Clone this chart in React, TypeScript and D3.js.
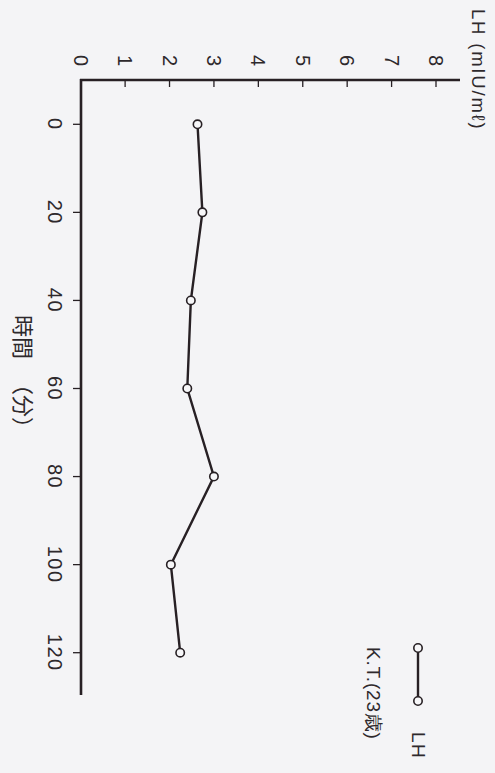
import React from "react";
import * as d3 from "d3";

// LH concentration over time for one subject
const times = [0, 20, 40, 60, 80, 100, 120];
const lhValues = [2.63, 2.74, 2.48, 2.4, 3.0, 2.03, 2.24];
const lhTicks = [0, 1, 2, 3, 4, 5, 6, 7, 8];
const timeTicks = [0, 20, 40, 60, 80, 100, 120];
const seriesName = "LH";
const subjectLabel = "K.T.(23歳)";
const valueTitle = "LH (mIU/mℓ)";
const timeTitleMain = "時間";
const timeTitleUnit = "（分）";

const W = 495;
const H = 773;
const ink = "#272024";
const textInk = "#2e292c";
const font = "'Liberation Sans', Arial, sans-serif";
const cjkFont = "'Noto Sans CJK JP', 'Liberation Sans', sans-serif";

export default function App() {
  // the plot is drawn turned a quarter-turn clockwise: LH runs left→right, time runs top→bottom
  const x = d3.scaleLinear().domain([0, 8]).range([80.7, 436]);
  const y = d3.scaleLinear().domain([0, 120]).range([124.3, 652.7]);

  const axisX0 = 81;
  const axisY0 = 80;

  const line = d3
    .line<number>()
    .x((_, i) => x(lhValues[i]))
    .y((_, i) => y(times[i]));

  const rot = (tx: number, ty: number) => `translate(${tx},${ty}) rotate(90)`;

  return (
    <svg
      width={W}
      height={H}
      style={{ position: "absolute", left: 0, top: 0 }}
      fontFamily={font}
    >
      <rect width={W} height={H} fill="#f4f4f6" />

      {/* LH axis along the top */}
      <line x1={axisX0 - 1} x2={460} y1={axisY0} y2={axisY0} stroke={ink} strokeWidth={2.6} />
      {lhTicks.map((t) => (
        <g key={`lh${t}`}>
          {t > 0 && (
            <line x1={x(t)} x2={x(t)} y1={axisY0} y2={axisY0 + 7} stroke={ink} strokeWidth={1.3} />
          )}
          <text
            transform={rot(x(t), 61)}
            textAnchor="middle"
            dominantBaseline="central"
            fontSize={20}
            letterSpacing={1}
            fill={textInk}
          >
            {t}
          </text>
        </g>
      ))}
      <text
        transform={rot(478, 9)}
        dominantBaseline="central"
        fontSize={18.5}
        letterSpacing={1.8}
        fill={textInk}
      >
        {valueTitle}
      </text>

      {/* time axis down the left */}
      <line x1={axisX0} x2={axisX0} y1={axisY0 - 1} y2={695} stroke={ink} strokeWidth={2.6} />
      {timeTicks.map((t) => (
        <g key={`t${t}`}>
          <line x1={axisX0 - 8} x2={axisX0} y1={y(t)} y2={y(t)} stroke={ink} strokeWidth={1.3} />
          <text
            transform={rot(55, y(t))}
            textAnchor="middle"
            dominantBaseline="central"
            fontSize={20}
            letterSpacing={1.5}
            fill={textInk}
          >
            {t}
          </text>
        </g>
      ))}
      <text
        transform={rot(25, 315)}
        dominantBaseline="central"
        fontSize={22}
        fontFamily={cjkFont}
        fill={textInk}
      >
        {timeTitleMain}
        <tspan dx={14}>{timeTitleUnit}</tspan>
      </text>

      {/* series */}
      <path d={line(lhValues) ?? ""} fill="none" stroke={ink} strokeWidth={2.4} />
      {lhValues.map((v, i) => (
        <circle
          key={`p${i}`}
          cx={x(v)}
          cy={y(times[i])}
          r={4.2}
          fill="#f7f7f9"
          stroke={ink}
          strokeWidth={1.6}
        />
      ))}

      {/* legend */}
      <line x1={418} x2={418} y1={648} y2={701} stroke={ink} strokeWidth={2.4} />
      <circle cx={418} cy={648} r={4.2} fill="#f7f7f9" stroke={ink} strokeWidth={1.6} />
      <circle cx={418} cy={701} r={4.2} fill="#f7f7f9" stroke={ink} strokeWidth={1.6} />
      <text
        transform={rot(418, 732)}
        dominantBaseline="central"
        fontSize={19}
        letterSpacing={1.5}
        fill={textInk}
      >
        {seriesName}
      </text>
      <text
        transform={rot(373, 647)}
        dominantBaseline="central"
        fontSize={19}
        letterSpacing={0.8}
        fontFamily={font}
        fill={textInk}
      >
        {subjectLabel}
      </text>
    </svg>
  );
}
